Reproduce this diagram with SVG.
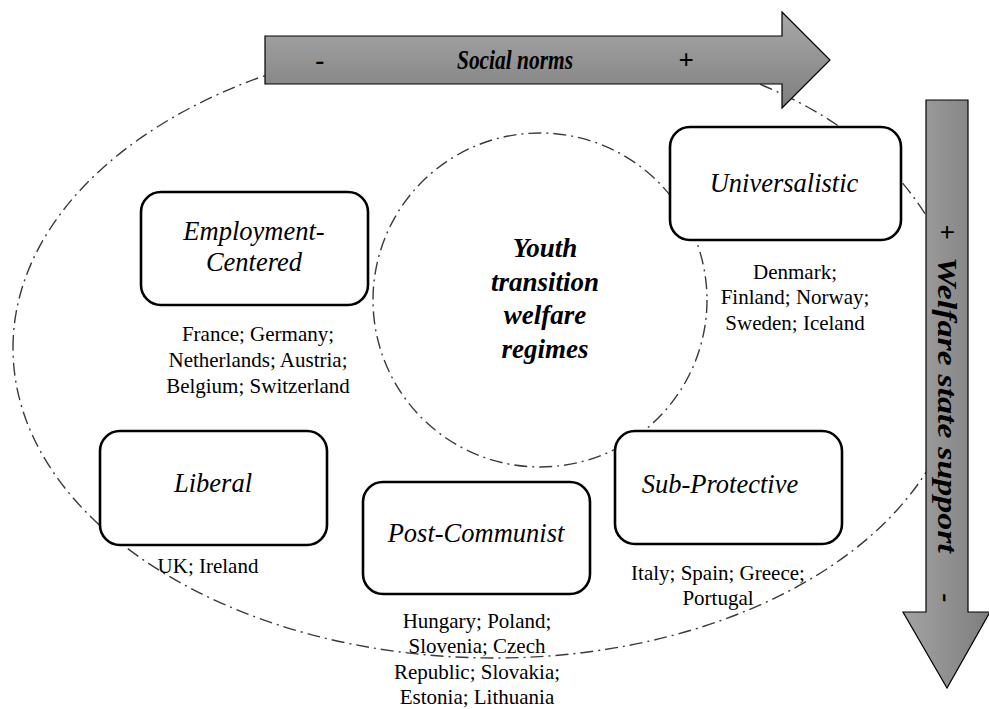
<svg xmlns="http://www.w3.org/2000/svg" width="989" height="709" viewBox="0 0 989 709">
<defs>
<linearGradient id="gH" x1="0" y1="0" x2="0" y2="1">
<stop offset="0" stop-color="#a9a9a9"/>
<stop offset="1" stop-color="#7e7e7e"/>
</linearGradient>
<linearGradient id="gV" x1="0" y1="0" x2="1" y2="0">
<stop offset="0" stop-color="#a3a3a3"/>
<stop offset="1" stop-color="#7e7e7e"/>
</linearGradient>
</defs>
<style>
text{font-family:'Liberation Serif','Times New Roman',serif;fill:#000;text-anchor:middle}
.dd{fill:none;stroke:#3a3a3a;stroke-width:1.4;stroke-dasharray:13 5 2 5}
.box{fill:#fff;stroke:#000;stroke-width:2.6}
.ttl{font-style:italic;font-size:26.5px}
.ctr{font-size:21px}
.cen{font-style:italic;font-weight:bold;font-size:27px}
.arr{font-style:italic;font-weight:bold;font-size:27px}
.arrow{stroke:#000;stroke-width:1.2}
</style>
<g id="connectors">
<path class="dd" d="M13,348 C13,177 229,38 495,38 C776,38 963,162 963,348 C963,534 740,658 495,658 C229,658 13,519 13,348 Z"/>
<circle class="dd" cx="540" cy="300" r="167"/>
</g>
<g id="social-norms">
<path class="arrow" fill="url(#gH)" d="M265,36 H782 V12 L830,60 L782,108 V84 H265 Z"/>
<text class="arr" x="320" y="69">-</text>
<text class="arr" x="515" y="69" textLength="116" lengthAdjust="spacingAndGlyphs">Social norms</text>
<text class="arr" x="686" y="69">+</text>
</g>
<g id="welfare-support">
<path class="arrow" fill="url(#gV)" d="M926,100 H968 V612 H990 L947,688 L903,612 H926 Z"/>
<g transform="translate(938,0) rotate(90)">
<text class="arr" x="232" y="0">+</text>
<text class="arr" x="405" y="0" textLength="296" lengthAdjust="spacingAndGlyphs">Welfare state support</text>
<text class="arr" x="598" y="0">-</text>
</g>
</g>
<g id="center">
<text class="cen" x="545" y="257">Youth</text>
<text class="cen" x="545" y="291">transition</text>
<text class="cen" x="545" y="324">welfare</text>
<text class="cen" x="545" y="358">regimes</text>
</g>
<g id="employment-centered">
<rect class="box" x="141" y="192" width="227" height="113" rx="20"/>
<text class="ttl" x="254" y="240">Employment-</text>
<text class="ttl" x="254" y="271">Centered</text>
<text class="ctr" x="258" y="341">France; Germany;</text>
<text class="ctr" x="258" y="367">Netherlands; Austria;</text>
<text class="ctr" x="258" y="393">Belgium; Switzerland</text>
</g>
<g id="universalistic">
<rect class="box" x="670" y="127" width="231" height="113" rx="20"/>
<text class="ttl" x="784" y="192">Universalistic</text>
<text class="ctr" x="795" y="279">Denmark;</text>
<text class="ctr" x="795" y="304">Finland; Norway;</text>
<text class="ctr" x="795" y="330">Sweden; Iceland</text>
</g>
<g id="liberal">
<rect class="box" x="100" y="431" width="227" height="114" rx="20"/>
<text class="ttl" x="213" y="492">Liberal</text>
<text class="ctr" x="208" y="573">UK; Ireland</text>
</g>
<g id="post-communist">
<rect class="box" x="363" y="482" width="227" height="112" rx="20"/>
<text class="ttl" x="476" y="542">Post-Communist</text>
<text class="ctr" x="477" y="628">Hungary; Poland;</text>
<text class="ctr" x="477" y="653">Slovenia; Czech</text>
<text class="ctr" x="477" y="679">Republic; Slovakia;</text>
<text class="ctr" x="477" y="704">Estonia; Lithuania</text>
</g>
<g id="sub-protective">
<rect class="box" x="615" y="431" width="227" height="113" rx="20"/>
<text class="ttl" x="720" y="493">Sub-Protective</text>
<text class="ctr" x="718" y="580">Italy; Spain; Greece;</text>
<text class="ctr" x="718" y="605">Portugal</text>
</g>
</svg>
